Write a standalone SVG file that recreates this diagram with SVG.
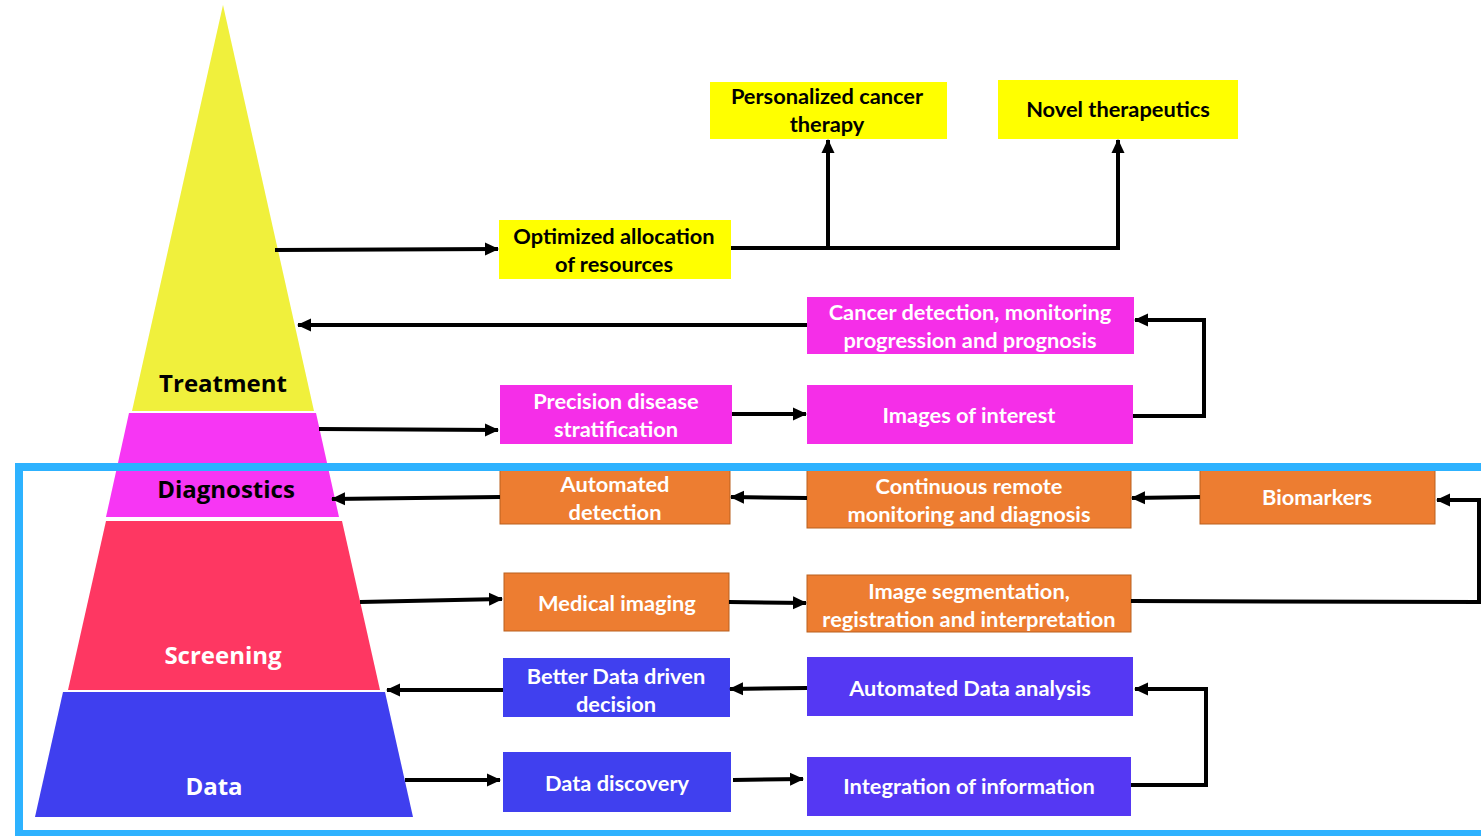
<svg xmlns="http://www.w3.org/2000/svg" width="1481" height="836" viewBox="0 0 1481 836">
<defs>
<style>
.bt{font-family:Lato,"Open Sans","Liberation Sans",sans-serif;font-weight:bold;font-size:21.8px;text-anchor:middle}
.pt{font-family:"Open Sans",Lato,"Liberation Sans",sans-serif;font-weight:bold;font-size:24px;text-anchor:middle}
.w{fill:#ffffff}
.k{fill:#000000}
.yel{fill:#FFFF00}
.mag{fill:#F52EE8}
.org{fill:#ED7D31;stroke:#B9611F;stroke-width:1}
.blu{fill:#4040EF}
.pur{fill:#5538F3}
.con{fill:none;stroke:#000;stroke-width:4;stroke-linejoin:miter}
</style>
<marker id="ah" markerWidth="16" markerHeight="16" refX="13" refY="7.5" orient="auto" markerUnits="userSpaceOnUse">
<path d="M0,1 L14,7.5 L0,14 z" fill="#000"/>
</marker>
</defs>
<rect width="1481" height="836" fill="#fff"/>

<g id="pyramid">
<g id="treatment"><polygon points="223,5 314,411 132,411" fill="#F0F03C"/><text class="pt k" x="223" y="392">Treatment</text></g>
<g id="diagnostics"><polygon points="129,413 316,413 339,517 106,517" fill="#F736F4"/><text class="pt k" x="226" y="498">Diagnostics</text></g>
<g id="screening"><polygon points="106,521 342,521 380,690 68,690" fill="#FE3762"/><text class="pt w" x="223" y="664">Screening</text></g>
<g id="data"><polygon points="63,692 385,692 413,817 35,817" fill="#3F3FEF"/><text class="pt w" x="214" y="795">Data</text></g>
</g>

<g id="n-personalized"><rect class="yel" x="710" y="82" width="237" height="57"/><text class="bt k" x="827" y="104">Personalized cancer</text><text class="bt k" x="827" y="132">therapy</text></g>
<g id="n-novel"><rect class="yel" x="998" y="80" width="240" height="59"/><text class="bt k" x="1118" y="117">Novel therapeutics</text></g>
<g id="n-optimized"><rect class="yel" x="499" y="220" width="232" height="59"/><text class="bt k" x="614" y="244">Optimized allocation</text><text class="bt k" x="614" y="272">of resources</text></g>
<g id="n-cancer"><rect class="mag" x="807" y="297" width="327" height="57"/><text class="bt w" x="970" y="320">Cancer detection, monitoring</text><text class="bt w" x="970" y="348">progression and prognosis</text></g>
<g id="n-precision"><rect class="mag" x="500" y="385" width="232" height="59"/><text class="bt w" x="616" y="409">Precision disease</text><text class="bt w" x="616" y="437">stratification</text></g>
<g id="n-images"><rect class="mag" x="807" y="385" width="326" height="59"/><text class="bt w" x="969" y="423">Images of interest</text></g>
<g id="n-autodetect"><rect class="org" x="500" y="468" width="230" height="56"/><text class="bt w" x="615" y="492">Automated</text><text class="bt w" x="615" y="520">detection</text></g>
<g id="n-continuous"><rect class="org" x="807" y="468" width="324" height="60"/><text class="bt w" x="969" y="494">Continuous remote</text><text class="bt w" x="969" y="522">monitoring and diagnosis</text></g>
<g id="n-biomarkers"><rect class="org" x="1200" y="468" width="235" height="56"/><text class="bt w" x="1317" y="505">Biomarkers</text></g>
<g id="n-medical"><rect class="org" x="504" y="573" width="225" height="58"/><text class="bt w" x="617" y="611">Medical imaging</text></g>
<g id="n-segmentation"><rect class="org" x="807" y="575" width="324" height="57"/><text class="bt w" x="969" y="599">Image segmentation,</text><text class="bt w" x="969" y="627">registration and interpretation</text></g>
<g id="n-better"><rect class="blu" x="503" y="658" width="227" height="59"/><text class="bt w" x="616" y="684">Better Data driven</text><text class="bt w" x="616" y="712">decision</text></g>
<g id="n-autoanalysis"><rect class="pur" x="807" y="657" width="326" height="59"/><text class="bt w" x="970" y="696">Automated Data analysis</text></g>
<g id="n-discovery"><rect class="blu" x="503" y="752" width="228" height="60"/><text class="bt w" x="617" y="791">Data discovery</text></g>
<g id="n-integration"><rect class="pur" x="807" y="757" width="324" height="59"/><text class="bt w" x="969" y="794">Integration of information</text></g>

<g id="connectors">
<path class="con" d="M275,250 L498,249" marker-end="url(#ah)"/>
<path class="con" d="M731,248 L1118,248 L1118,140" marker-end="url(#ah)"/>
<path class="con" d="M828,248 L828,140" marker-end="url(#ah)"/>
<path class="con" d="M807,325 L298,325" marker-end="url(#ah)"/>
<path class="con" d="M1133,416 L1204,416 L1204,320 L1135,320" marker-end="url(#ah)"/>
<path class="con" d="M319,429 L498,430" marker-end="url(#ah)"/>
<path class="con" d="M732,414 L806,414" marker-end="url(#ah)"/>
<path class="con" d="M500,497 L332,499" marker-end="url(#ah)"/>
<path class="con" d="M807,498 L731,497" marker-end="url(#ah)"/>
<path class="con" d="M1200,497 L1132,498" marker-end="url(#ah)"/>
<path class="con" d="M1131,601 L1479,602 L1479,500 L1437,500" marker-end="url(#ah)"/>
<path class="con" d="M360,602 L502,599" marker-end="url(#ah)"/>
<path class="con" d="M729,602 L806,603" marker-end="url(#ah)"/>
<path class="con" d="M807,688 L730,689" marker-end="url(#ah)"/>
<path class="con" d="M503,690 L387,690" marker-end="url(#ah)"/>
<path class="con" d="M405,780 L500,780" marker-end="url(#ah)"/>
<path class="con" d="M733,780 L803,779" marker-end="url(#ah)"/>
<path class="con" d="M1131,785 L1206,785 L1206,689 L1135,689" marker-end="url(#ah)"/>
</g>

<rect id="frame" x="19" y="467" width="1500" height="367" fill="none" stroke="#2DB2FF" stroke-width="8"/>
</svg>
